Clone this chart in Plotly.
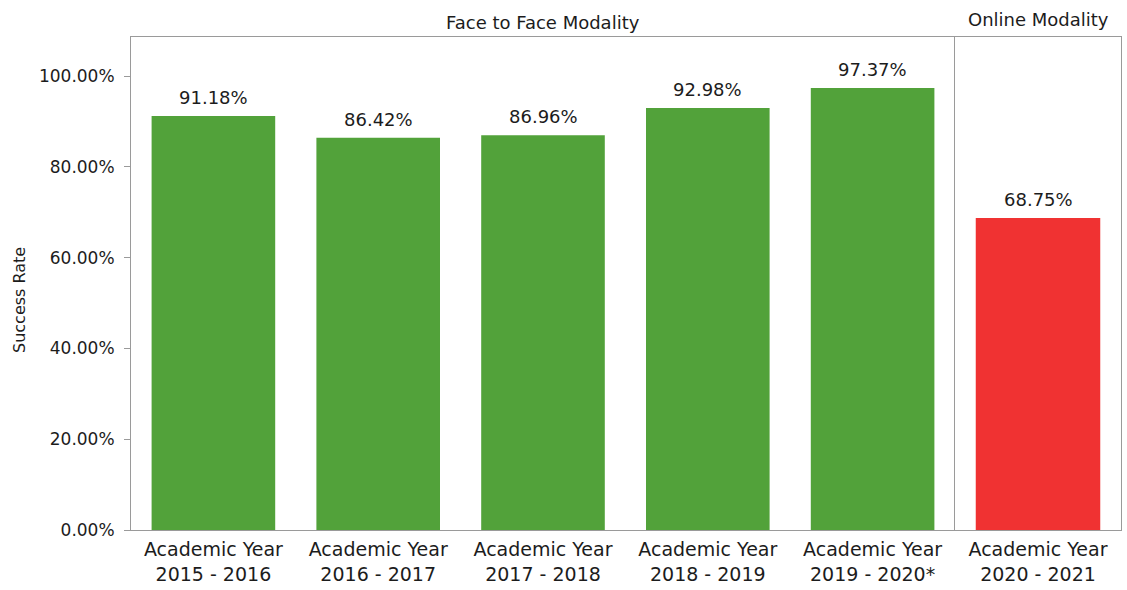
import plotly.graph_objects as go

# Success rate by academic year, split by teaching modality
face_years = ["Academic Year<br>2015 - 2016", "Academic Year<br>2016 - 2017",
              "Academic Year<br>2017 - 2018", "Academic Year<br>2018 - 2019",
              "Academic Year<br>2019 - 2020*"]
face_rates = [91.18, 86.42, 86.96, 92.98, 97.37]

online_years = ["Academic Year<br>2020 - 2021"]
online_rates = [68.75]

y_ticks = [0, 20, 40, 60, 80, 100]
y_tick_labels = [f"{v:.2f}%" for v in y_ticks]

GREEN = "#52a23a"
RED = "#f03232"
TEXT = "#1c1c1c"
LINE = "#9a9a9a"
FONT = "DejaVu Sans"

W, H = 1127, 590
M_L, M_R, M_T, M_B = 131, 6, 37, 60
plot_w = W - M_L - M_R
split = (955 - M_L) / plot_w

fig = go.Figure()
fig.add_trace(go.Bar(x=face_years, y=face_rates, marker=dict(color=GREEN, line_width=0),
                     xaxis="x", yaxis="y", showlegend=False))
fig.add_trace(go.Bar(x=online_years, y=online_rates, marker=dict(color=RED, line_width=0),
                     xaxis="x2", yaxis="y2", showlegend=False))

annotations = []
for cat, val in zip(face_years, face_rates):
    annotations.append(dict(x=cat, y=val, xref="x", yref="y", text=f"{val:.2f}%",
                            showarrow=False, yanchor="bottom", yshift=6,
                            font=dict(family=FONT, size=18, color=TEXT)))
for cat, val in zip(online_years, online_rates):
    annotations.append(dict(x=cat, y=val, xref="x2", yref="y2", text=f"{val:.2f}%",
                            showarrow=False, yanchor="bottom", yshift=6,
                            font=dict(family=FONT, size=18, color=TEXT)))

# panel headers
annotations.append(dict(x=0.5, y=1, xref="x domain", yref="paper", yanchor="bottom", yshift=2,
                        text="Face to Face Modality", showarrow=False,
                        font=dict(family=FONT, size=18, color=TEXT)))
annotations.append(dict(x=0.5, y=1, xref="x2 domain", yref="paper", yanchor="bottom", yshift=5,
                        text="Online Modality", showarrow=False,
                        font=dict(family=FONT, size=18, color=TEXT)))
# y-axis title
annotations.append(dict(x=(19 - M_L) / plot_w, y=(H - M_B - 300) / (H - M_T - M_B),
                        xref="paper", yref="paper", xanchor="center", yanchor="middle",
                        text="Success Rate", textangle=-90,
                        showarrow=False, font=dict(family=FONT, size=16, color=TEXT)))

y_range = [0, 108.6]
axis_common = dict(showgrid=False, zeroline=False, showline=True, linecolor=LINE, linewidth=1)

fig.update_layout(
    width=W, height=H,
    margin=dict(l=M_L, r=M_R, t=M_T, b=M_B),
    paper_bgcolor="white", plot_bgcolor="white",
    bargap=0.25,
    font=dict(family=FONT, color=TEXT),
    xaxis=dict(domain=[0, split], anchor="y", mirror=True, ticks="", ticklabelstandoff=2,
               tickfont=dict(family=FONT, size=19, color=TEXT), **axis_common),
    xaxis2=dict(domain=[split, 1], anchor="y2", mirror=True, ticks="", ticklabelstandoff=2,
                tickfont=dict(family=FONT, size=19, color=TEXT), **axis_common),
    yaxis=dict(range=y_range, anchor="x", tickvals=y_ticks, ticktext=y_tick_labels,
               ticks="outside", ticklen=6, tickcolor=LINE, ticklabelstandoff=6,
               tickfont=dict(family=FONT, size=17, color=TEXT), **axis_common),
    yaxis2=dict(range=y_range, anchor="x2", matches="y", showticklabels=False, mirror=True,
                ticks="", **axis_common),
    annotations=annotations,
)

fig.write_html("out.html")
